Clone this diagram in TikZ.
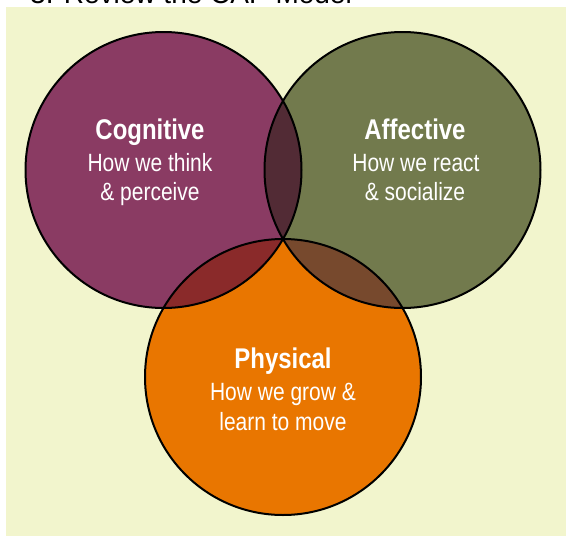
\documentclass[tikz,border=0pt]{standalone}
\usepackage{fontspec}
\setmainfont[FakeStretch=0.84]{Liberation Sans}
\newfontfamily\titlefont{Liberation Sans}
\definecolor{bgc}{HTML}{F2F5CD}
\definecolor{cogc}{HTML}{8A3B63}
\definecolor{affc}{HTML}{727A4D}
\definecolor{phyc}{HTML}{E97600}
\definecolor{cac}{HTML}{522B35}
\definecolor{cpc}{HTML}{8A2A2A}
\definecolor{apc}{HTML}{77492D}
\tikzset{
  rim/.style={draw=black, line width=2pt},
  headtxt/.style={anchor=base, text=white, font=\fontsize{28.5}{32}\selectfont\bfseries, inner sep=0pt},
  subtxt/.style={anchor=base, text=white, font=\fontsize{25}{30}\selectfont, inner sep=0pt}
}
\begin{document}
\begin{tikzpicture}[x=1pt,y=-1pt]
\useasboundingbox (0,0) rectangle (566,536);
\fill[white] (0,0) rectangle (566,536);
\node[anchor=base west, inner sep=0pt, font=\titlefont\fontsize{28}{32}\selectfont] (title) at (30,3.5) {3. Review the CAP Model};
\fill[bgc] (6,7) rectangle (566,536);
\def\R{138}
\coordinate (C) at (163.5,170);
\coordinate (A) at (402.5,170);
\coordinate (P) at (283,377);
\fill[cogc] (C) circle (\R);
\fill[affc] (A) circle (\R);
\fill[phyc] (P) circle (\R);
\begin{scope}
  \clip (C) circle (\R);
  \fill[cac] (A) circle (\R);
  \fill[cpc] (P) circle (\R);
\end{scope}
\begin{scope}
  \clip (A) circle (\R);
  \fill[apc] (P) circle (\R);
\end{scope}
\draw[rim] (C) circle (\R);
\draw[rim] (A) circle (\R);
\draw[rim] (P) circle (\R);
\node[headtxt] (cog) at (150,139) {Cognitive};
\node[subtxt] (cog1) at (150,171) {How we think};
\node[subtxt] (cog2) at (150,200) {\& perceive};
\node[headtxt] (aff) at (415,139) {Affective};
\node[subtxt] (aff1) at (416,171) {How we react};
\node[subtxt] (aff2) at (415,200) {\& socialize};
\node[headtxt] (phy) at (283,368) {Physical};
\node[subtxt] (phy1) at (283,400.5) {How we grow \&};
\node[subtxt] (phy2) at (283,430) {learn to move};
\end{tikzpicture}
\end{document}
